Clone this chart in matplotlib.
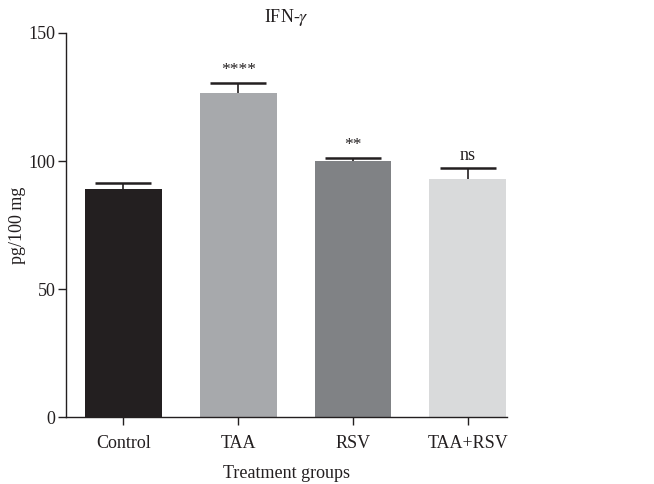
import matplotlib
matplotlib.use("Agg")
import matplotlib.pyplot as plt

plt.rcParams['font.family'] = ['Liberation Serif', 'DejaVu Serif']
plt.rcParams['mathtext.fontset'] = 'stix'

# data
groups = ["Control", "TAA", "RSV", "TAA+RSV"]
means = [89.0, 126.7, 99.9, 92.8]
errors = [2.4, 3.9, 1.3, 4.3]
signif = ["", "****", "**", "ns"]
colors = ["#231f20", "#a7a9ac", "#808285", "#d9dadb"]

text_color = "#231f20"

fig = plt.figure(figsize=(6.54, 4.84), dpi=100)
ax = fig.add_axes([0.101, 0.138, 0.674, 0.794])

x = range(len(groups))
ax.bar(x, means, width=0.67, color=colors, zorder=2)
_, caps, _ = ax.errorbar(x, means, yerr=[[0] * len(errors), errors], fmt='none',
                         ecolor=text_color, elinewidth=1.2, capsize=20, capthick=1.8, zorder=3)
# only the upper cap is drawn in the reference
caps[0].set_visible(False)

for i, (m, e, s) in enumerate(zip(means, errors, signif)):
    if s:
        fs = 13 if s == "ns" else 12.5
        ax.text(i, m + e + 1.8, s, ha='center', va='bottom', fontsize=fs, color=text_color)

ax.set_xlim(-0.5, 3.34)
ax.set_ylim(0, 150)
ax.set_yticks([0, 50, 100, 150])
ax.set_xticks(list(x))
ax.set_xticklabels(groups)

for side in ['top', 'right']:
    ax.spines[side].set_visible(False)
for side in ['left', 'bottom']:
    ax.spines[side].set_color(text_color)
    ax.spines[side].set_linewidth(1.0)

ax.tick_params(axis='both', direction='out', length=6, width=1.0, colors=text_color,
               labelsize=13, pad=1.5)
ax.tick_params(axis='x', pad=7)

ax.set_ylabel("pg/100 mg", fontsize=13, color=text_color, labelpad=2)
ax.set_xlabel("Treatment groups", fontsize=13, color=text_color, labelpad=9)
ax.set_title(r"IFN-$\gamma$", fontsize=13, color=text_color, pad=8)

fig.savefig("out.png", dpi=100)
